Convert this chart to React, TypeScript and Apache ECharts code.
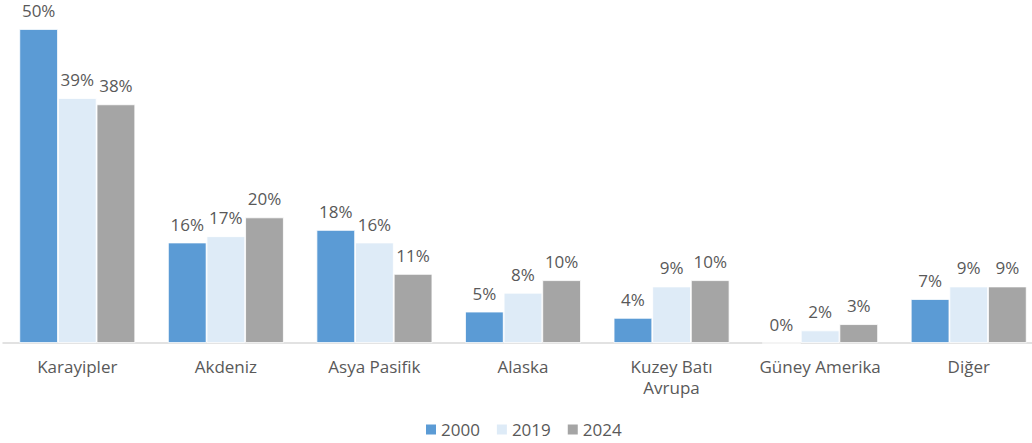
import React, { useEffect, useRef } from "react";
import * as echarts from "echarts";

const categories = ["Karayipler", "Akdeniz", "Asya Pasifik", "Alaska", "Kuzey Batı\nAvrupa", "Güney Amerika", "Diğer"];
const seriesNames = ["2000", "2019", "2024"];
const values2000 = [50, 16, 18, 5, 4, 0, 7];
const values2019 = [39, 17, 16, 8, 9, 2, 9];
const values2024 = [38, 20, 11, 10, 10, 3, 9];
const colors = ["#5B9BD5", "#DEEBF7", "#A5A5A5"];

export default function App() {
  const ref = useRef<HTMLDivElement>(null);
  useEffect(() => {
    if (!ref.current) return;
    const chart = echarts.init(ref.current, undefined, { renderer: "svg" });
    const font = "'Open Sans', 'Noto Sans', sans-serif";
    const data = [values2000, values2019, values2024];
    chart.setOption({
      animation: false,
      textStyle: { fontFamily: font },
      grid: { left: 3, top: 29, width: 1040, height: 314, containLabel: false },
      legend: {
        top: 416,
        left: 421,
        itemWidth: 10,
        itemHeight: 10,
        itemGap: 17,
        itemStyle: { borderWidth: 0 },
        icon: "rect",
        textStyle: { color: "#595959", fontSize: 17, fontFamily: font },
        data: seriesNames,
      },
      xAxis: {
        type: "category",
        data: categories,
        axisLine: { lineStyle: { color: "#D9D9D9", width: 1.5 } },
        axisTick: { show: false },
        axisLabel: { color: "#595959", fontSize: 17, fontFamily: font, margin: 13, lineHeight: 21, interval: 0 },
      },
      yAxis: {
        type: "value",
        min: 0,
        max: 50,
        show: false,
        splitLine: { show: false },
      },
      series: seriesNames.map((name, i) => ({
        name,
        type: "bar",
        data: data[i],
        barGap: "0%",
        barCategoryGap: "22%",
        itemStyle: { color: colors[i], borderColor: "#FFFFFF", borderWidth: 0.8 },
        label: {
          show: true,
          position: "top",
          distance: 10,
          formatter: "{c}%",
          color: "#595959",
          fontSize: 17,
          fontFamily: font,
        },
      })),
    });
    return () => chart.dispose();
  }, []);
  return (
    <div style={{ position: "absolute", left: 0, top: 0, width: 1032, height: 443, overflow: "hidden" }}>
      <div ref={ref} style={{ width: 1050, height: 443 }} />
    </div>
  );
}
